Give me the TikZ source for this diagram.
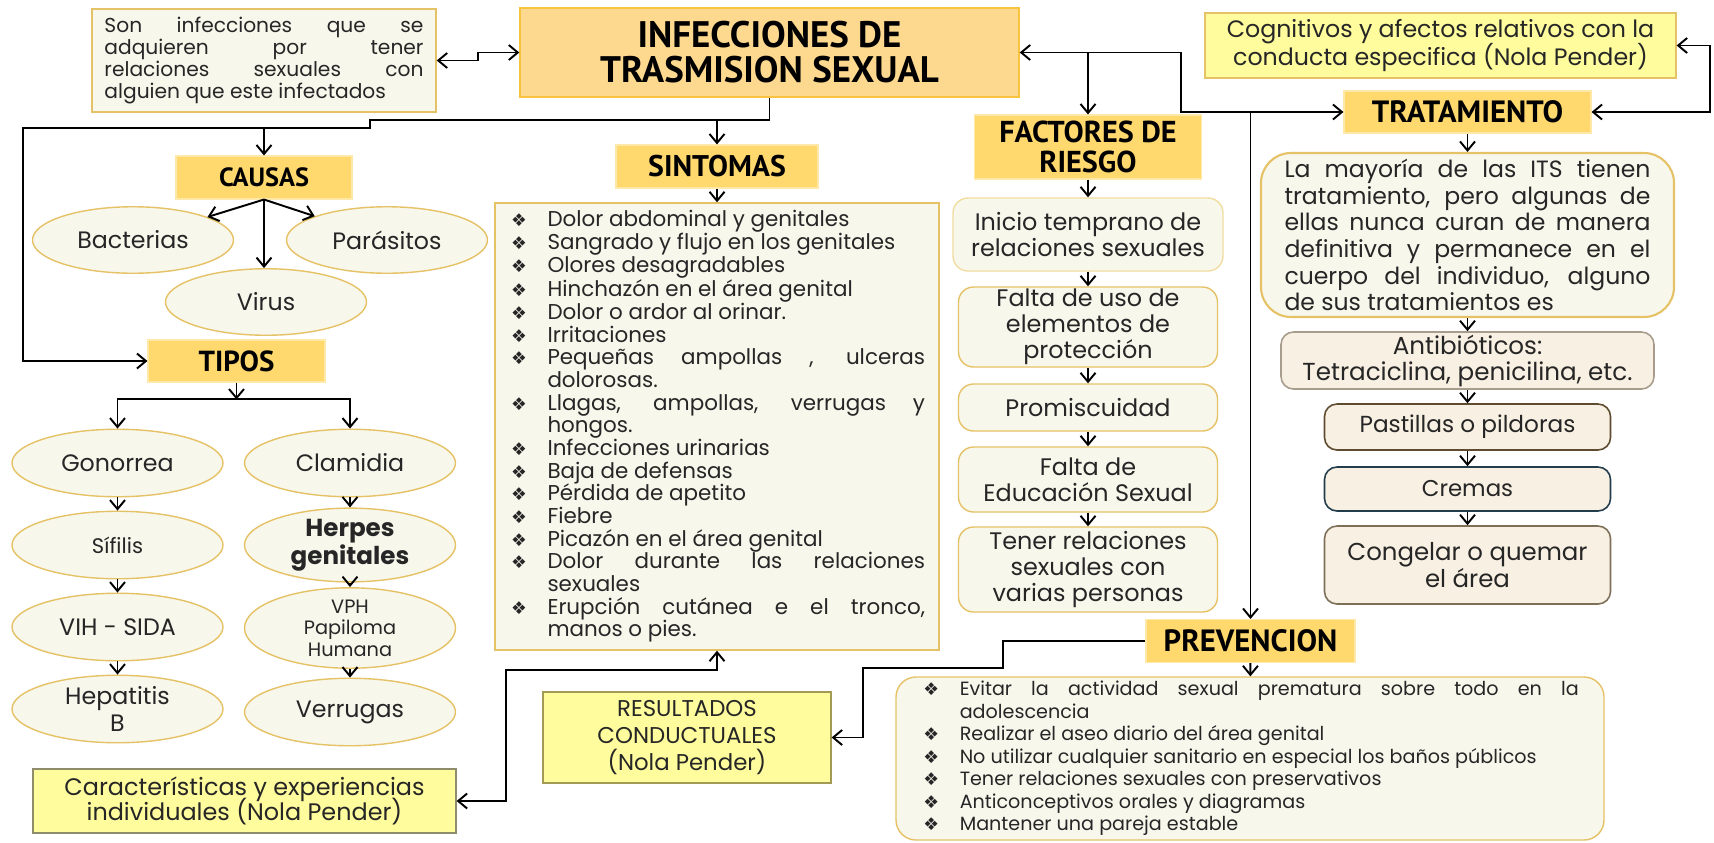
\documentclass[tikz,border=0pt]{standalone}
\usepackage{fontspec}
\setmainfont{Poppins}
\newfontfamily\headfont{PT Sans}
\newfontfamily\symfont{DejaVu Sans}
\usetikzlibrary{shapes.geometric, arrows.meta}

\definecolor{crema}{HTML}{F8F7EC}
\definecolor{oro}{HTML}{E6C266}
\definecolor{oroclaro}{HTML}{F0DDA0}
\definecolor{cabeza}{HTML}{FFD86E}
\definecolor{titulo}{HTML}{FDD98F}
\definecolor{titborde}{HTML}{F8C440}
\definecolor{amarillo}{HTML}{FFFC9E}
\definecolor{gris}{HTML}{8F8C6C}
\definecolor{oliva}{HTML}{A39A55}
\definecolor{durazno}{HTML}{F8F0E2}
\definecolor{tostado}{HTML}{A89C8C}
\definecolor{cafe}{HTML}{5E4B30}
\definecolor{marino}{HTML}{233D4D}
\definecolor{texto}{HTML}{262626}

% плотные строки в списках
\lineskiplimit=-20pt

% пункт списка с ромбиком
\newcommand{\punto}[1]{\noindent\hangindent=7.7mm\hangafter=1\makebox[7.7mm][l]{\hspace{0.4mm}{\symfont\fontsize{10}{10}\selectfont ❖}}#1\par}

\begin{document}
\begin{tikzpicture}[x=0.2mm, y=-0.2mm, >={Straight Barb[length=1.8mm,width=3mm]},
	linea/.style={line width=1.1pt, black},
	cabecera/.style={fill=cabeza, draw=cabeza!60!white, line width=0.6pt, inner sep=0pt, align=center, text=black, font=\headfont\bfseries\fontsize{#1}{#1}\selectfont},
	caja/.style={fill=crema, draw=oro, line width=0.8pt, inner sep=0pt, align=center, text=texto},
	elipse/.style={caja, ellipse, minimum width=42.2mm, minimum height=13.5mm, font=\fontsize{13.5}{15.2}\selectfont},
	nota/.style={fill=amarillo, line width=0.7pt, inner sep=0pt, align=center, text=texto},
	paso/.style={caja, rounded corners=3mm, minimum width=51.8mm, font=\fontsize{13.6}{14.8}\selectfont},
	remedio/.style={fill=durazno, line width=0.9pt, rounded corners=2.5mm, inner sep=0pt, align=center, text=texto, minimum width=57.2mm}]
				% Рамка рисунка
				\fill[white] (0,0) rectangle (1714,842);
				\useasboundingbox (0,0) rectangle (1714,842);
				
				% Главный блок и определение
				\node[fill=titulo, draw=titborde, line width=0.8pt, inner sep=0pt, align=center, minimum width=99.8mm, minimum height=17.8mm, font=\headfont\bfseries\fontsize{21}{20}\selectfont] (main) at (769.5,52.5) {INFECCIONES DE\\TRASMISION SEXUAL};
				\node[caja, align=justify, text width=63.8mm, minimum width=68.8mm, minimum height=20.6mm, font=\fontsize{11.5}{12.7}\selectfont] (def) at (264,60.5) {Son infecciones que se\linebreak adquieren por tener\linebreak relaciones sexuales con\linebreak alguien que este infectados};
				\node[nota, draw=oro, minimum width=94.2mm, minimum height=13mm, font=\fontsize{13.5}{15.5}\selectfont] (cog) at (1440.5,45.5) {Cognitivos y afectos relativos con la\\conducta especifica (Nola Pender)};
				
				% Заголовки разделов
				\node[cabecera=15, minimum width=35.2mm, minimum height=8.6mm] (causas) at (264,177.5) {CAUSAS};
				\node[cabecera=17, minimum width=40.4mm, minimum height=8.6mm] (sintomas) at (717,166.5) {SINTOMAS};
				\node[cabecera=17.2, minimum width=45.4mm, minimum height=12.8mm] (factores) at (1088,147) {FACTORES DE\\RIESGO};
				\node[cabecera=17.5, minimum width=49.4mm, minimum height=8.4mm] (trat) at (1467.5,112) {TRATAMIENTO};
				\node[cabecera=16.5, minimum width=35.4mm, minimum height=8.4mm] (tipos) at (236.5,361) {TIPOS};
				\node[cabecera=17.5, minimum width=41.8mm, minimum height=8.6mm] (prev) at (1250.5,641) {PREVENCION};
				
				% Причины
				\node[elipse, minimum width=40.2mm, minimum height=13.3mm] (bact) at (133,240) {Bacterias};
				\node[elipse, minimum width=40.2mm, minimum height=13.3mm] (paras) at (387,240) {Parásitos};
				\node[elipse, minimum width=40.2mm, minimum height=13.3mm] (virus) at (266,302) {Virus};
				
				% Типы
				\node[elipse] (gono) at (117.5,463) {Gonorrea};
				\node[elipse, font=\fontsize{12}{14}\selectfont] (sif) at (117.5,545) {Sífilis};
				\node[elipse] (vih) at (117.5,627) {VIH - SIDA};
				\node[elipse] (hepa) at (117.5,709) {Hepatitis\\B};
				\node[elipse] (clam) at (350,463) {Clamidia};
				\node[elipse, font=\bfseries\fontsize{14}{16}\selectfont] (herp) at (350,545) {Herpes\\genitales};
				\node[elipse, font=\fontsize{11}{12.3}\selectfont] (vph) at (350,628) {VPH\\Papiloma\\Humana};
				\node[elipse] (verr) at (350,712) {Verrugas};
				
				% Симптомы
				\node[caja, align=justify, text width=83.2mm, minimum width=88.8mm, minimum height=89.4mm, font=\fontsize{12.2}{12.9}\selectfont] (sintlist) at (717,426.5) {\punto{Dolor abdominal y genitales}\punto{Sangrado y flujo en los genitales}\punto{Olores desagradables}\punto{Hinchazón en el área genital}\punto{Dolor o ardor al orinar.}\punto{Irritaciones}\punto{Pequeñas ampollas , ulceras\linebreak dolorosas.}\punto{Llagas, ampollas, verrugas y\linebreak hongos.}\punto{Infecciones urinarias}\punto{Baja de defensas}\punto{Pérdida de apetito}\punto{Fiebre}\punto{Picazón en el área genital}\punto{Dolor durante las relaciones\linebreak sexuales}\punto{Erupción cutánea e el tronco,\linebreak manos o pies.}};
				
				% Блоки Нолы Пендер
				\node[nota, draw=gris, minimum width=84.6mm, minimum height=12.8mm, font=\fontsize{13.6}{14.6}\selectfont] (caract) at (244.5,801) {Características y experiencias\\individuales (Nola Pender)};
				\node[nota, draw=oliva, minimum width=57.6mm, minimum height=18.2mm, font=\fontsize{13}{15.2}\selectfont] (result) at (687,737.5) {RESULTADOS\\CONDUCTUALES\\(Nola Pender)};
				
				% Факторы риска
				\node[paso, draw=oroclaro, minimum width=54mm, minimum height=14.6mm] (ini) at (1088,234.5) {Inicio temprano de\\relaciones sexuales};
				\node[paso, minimum height=16mm] (fuso) at (1088,327) {Falta de uso de\\elementos de\\protección};
				\node[paso, minimum height=9.4mm] (prom) at (1088,407.5) {Promiscuidad};
				\node[paso, minimum height=13mm] (fedu) at (1088,479.5) {Falta de\\Educación Sexual};
				\node[paso, minimum height=17mm] (tener) at (1088,569.5) {Tener relaciones\\sexuales con\\varias personas};
				
				% Лечение
				\node[caja, line width=1.2pt, rounded corners=6mm, align=justify, text width=73.2mm, minimum width=82.6mm, minimum height=32.8mm, font=\fontsize{13.4}{15.2}\selectfont] (tratbox) at (1467.5,235) {La mayoría de las ITS tienen\linebreak tratamiento, pero algunas de\linebreak ellas nunca curan de manera\linebreak definitiva y permanece en el\linebreak cuerpo del individuo, alguno\linebreak de sus tratamientos es};
				\node[remedio, draw=tostado, minimum width=74.6mm, minimum height=11.4mm, font=\fontsize{14}{14.8}\selectfont] (antib) at (1467.5,360.5) {Antibióticos:\\Tetraciclina, penicilina, etc.};
				\node[remedio, draw=cafe, minimum height=9.2mm, font=\fontsize{13.2}{14}\selectfont] (pastil) at (1467.5,427) {Pastillas o pildoras};
				\node[remedio, draw=marino, minimum height=8.8mm, font=\fontsize{13}{14}\selectfont] (cremas) at (1467.5,489) {Cremas};
				\node[remedio, draw=cafe!80!white, minimum height=15.6mm, font=\fontsize{13.9}{15}\selectfont] (congel) at (1467.5,565) {Congelar o quemar\\el área};
				
				% Профилактика
				\node[caja, rounded corners=4mm, align=justify, text width=131.5mm, minimum width=141.6mm, minimum height=32.6mm, font=\fontsize{10.9}{12.8}\selectfont] (prevlist) at (1250,758.5) {\punto{Evitar la actividad sexual prematura sobre todo en la\linebreak adolescencia}\punto{Realizar el aseo diario del área genital}\punto{No utilizar cualquier sanitario en especial los baños públicos}\punto{Tener relaciones sexuales con preservativos}\punto{Anticonceptivos orales y diagramas}\punto{Mantener una pareja estable}};
				
				% Связи слева
				\draw[linea, <->] (def.east) -- ++(41,0) |- (main.west);
				\draw[linea, ->] (main.south) |- (370,120) -- (370,128) -| (23,361) -- (tipos.west);
				\draw[linea, ->] (sintomas.north |- 0,120) -- (sintomas.north);
				\draw[linea, ->] (causas.north |- 0,128) -- (causas.north);
				\draw[linea, ->] (causas.south) -- (bact);
				\draw[linea, ->] (causas.south) -- (paras);
				\draw[linea, ->] (causas.south) -- (causas.south |- virus.north);
				\draw[linea, ->] (tipos.south) -- ++(0,17);
				\draw[linea, <->] (gono.north) -- ++(0,-30) -| (clam.north);
				\draw[linea, ->] (gono) -- (sif);
				\draw[linea, ->] (sif) -- (vih);
				\draw[linea, ->] (vih) -- (hepa);
				\draw[linea, ->] (clam) -- (herp);
				\draw[linea, ->] (herp) -- (vph);
				\draw[linea, ->] (vph) -- (verr);
				\draw[linea, ->] (sintomas) -- (sintlist);
				\draw[linea, <->] (caract.east) -| (506,670) -| (sintlist.south);
				
				% Связи справа
				\draw[linea, <->] (main.east) -- ++(161,0) |- (trat.west);
				\draw[linea, ->] (factores.north |- main.east) -- (factores.north);
				\draw[linea, ->] (prev.north |- trat.west) -- (prev.north);
				\draw[linea, <->] (cog.east) -- ++(33,0) |- (trat.east);
				\draw[linea, ->] (factores) -- (ini);
				\draw[linea, ->] (ini) -- (fuso);
				\draw[linea, ->] (fuso) -- (prom);
				\draw[linea, ->] (prom) -- (fedu);
				\draw[linea, ->] (fedu) -- (tener);
				\draw[linea, ->] (trat) -- (tratbox);
				\draw[linea, ->] (tratbox) -- (antib);
				\draw[linea, ->] (antib) -- (pastil);
				\draw[linea, ->] (pastil) -- (cremas);
				\draw[linea, ->] (cremas) -- (congel);
				\draw[linea, ->] (prev) -- (prevlist);
				\draw[linea, ->] (prev.west) -| (1003,668) -| (863,737.5) -- (result.east);
			\end{tikzpicture}
\end{document}
